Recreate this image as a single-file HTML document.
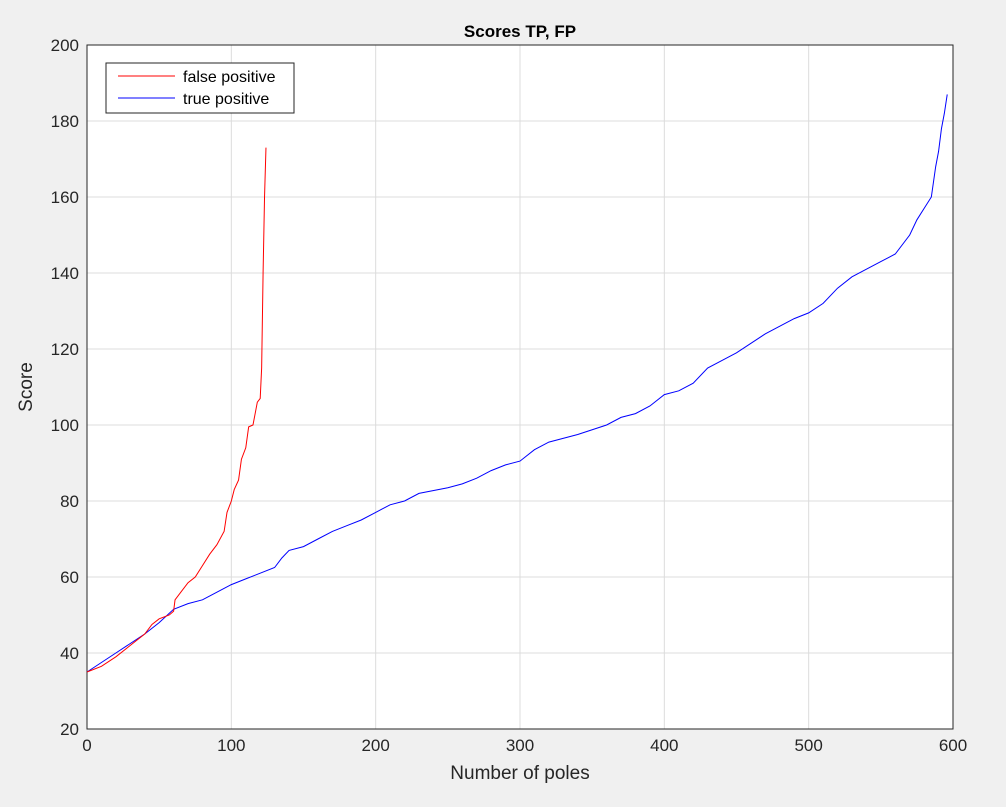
<!DOCTYPE html>
<html><head><meta charset="utf-8"><style>
body{margin:0;background:#f0f0f0;font-family:"Liberation Sans",sans-serif}
</style></head><body>
<svg id="chart" width="1006" height="802" xmlns="http://www.w3.org/2000/svg" font-family="Liberation Sans, sans-serif"></svg>
<script>
const xTicks=[0,100,200,300,400,500,600];
const yTicks=[20,40,60,80,100,120,140,160,180,200];
const fpX=[0,10,20,30,40,45,50,57,60,61,65,70,75,80,85,90,95,97,100,102,105,107,110,112,115,118,120,121,122,123,124];
const fpY=[35,36.5,39,42,45,47.5,49,50,51,54,56,58.5,60,63,66,68.5,72,77,80,83,85.5,91,94,99.5,100,106,107,115,140,160,173];
const tpX=[0,10,20,30,40,50,60,70,80,90,100,110,120,130,135,140,150,160,170,180,190,200,210,220,230,250,260,270,280,290,300,310,320,340,360,370,380,390,400,410,420,430,440,450,460,470,480,490,500,510,520,530,540,550,560,570,575,580,585,588,590,592,594,596];
const tpY=[35,37.5,40,42.5,45,48,51.5,53,54,56,58,59.5,61,62.5,65,67,68,70,72,73.5,75,77,79,80,82,83.5,84.5,86,88,89.5,90.5,93.5,95.5,97.5,100,102,103,105,108,109,111,115,117,119,121.5,124,126,128,129.5,132,136,139,141,143,145,150,154,157,160,168,172,178,182,187];
const L=87,R=953,T=45,B=729;
const sx=v=>L+(v-0)/600*(R-L);
const sy=v=>B-(v-20)/180*(B-T);
const svg=document.getElementById('chart');
const NS='http://www.w3.org/2000/svg';
function mk(t,a,p){const e=document.createElementNS(NS,t);for(const k in a)e.setAttribute(k,a[k]);(p||svg).appendChild(e);return e;}
const bg=mk('rect',{x:L,y:T,width:R-L,height:B-T,fill:'#fff'});


xTicks.forEach(v=>{
 const g=mk('line',{x1:sx(v),x2:sx(v),y1:T,y2:B,stroke:'#dcdcdc','stroke-width':1});
 
 
 const t=mk('text',{x:sx(v),y:B+22,'text-anchor':'middle','font-size':17,fill:'#262626'});t.textContent=v;
 
 
});
yTicks.forEach(v=>{
 const g=mk('line',{x1:L,x2:R,y1:sy(v),y2:sy(v),stroke:'#dcdcdc','stroke-width':1});
 
 
 const t=mk('text',{x:L-8,y:sy(v)+6,'text-anchor':'end','font-size':17,fill:'#262626'});t.textContent=v;
 
 
});
const fr=mk('rect',{x:L,y:T,width:R-L,height:B-T,fill:'none',stroke:'#262626','stroke-width':1});


function line(xs,ys,c,n){const p=mk('polyline',{points:xs.map((x,i)=>sx(x)+','+sy(ys[i])).join(' '),fill:'none',stroke:c,'stroke-width':1});
 
 }
line(tpX,tpY,'#0000ff','true-positive-line');
line(fpX,fpY,'#ff0000','false-positive-line');
const title=mk('text',{x:(L+R)/2,y:37,'text-anchor':'middle','font-size':17,'font-weight':'bold',fill:'#000'});title.textContent='Scores TP, FP';


const xl=mk('text',{x:(L+R)/2,y:779,'text-anchor':'middle','font-size':19,fill:'#262626'});xl.textContent='Number of poles';


const yl=mk('text',{x:0,y:0,'text-anchor':'middle','font-size':19,fill:'#262626',transform:'translate(32,387) rotate(-90)'});yl.textContent='Score';


const lg=mk('g',{});


mk('rect',{x:106,y:63,width:188,height:50,fill:'#fff',stroke:'#262626','stroke-width':1},lg);
mk('line',{x1:118,x2:175,y1:76,y2:76,stroke:'#ff0000'},lg);
mk('line',{x1:118,x2:175,y1:98,y2:98,stroke:'#0000ff'},lg);
const l1=mk('text',{x:183,y:82,'font-size':16,fill:'#000'},lg);l1.textContent='false positive';


const l2=mk('text',{x:183,y:104,'font-size':16,fill:'#000'},lg);l2.textContent='true positive';


</script>
</body></html>
